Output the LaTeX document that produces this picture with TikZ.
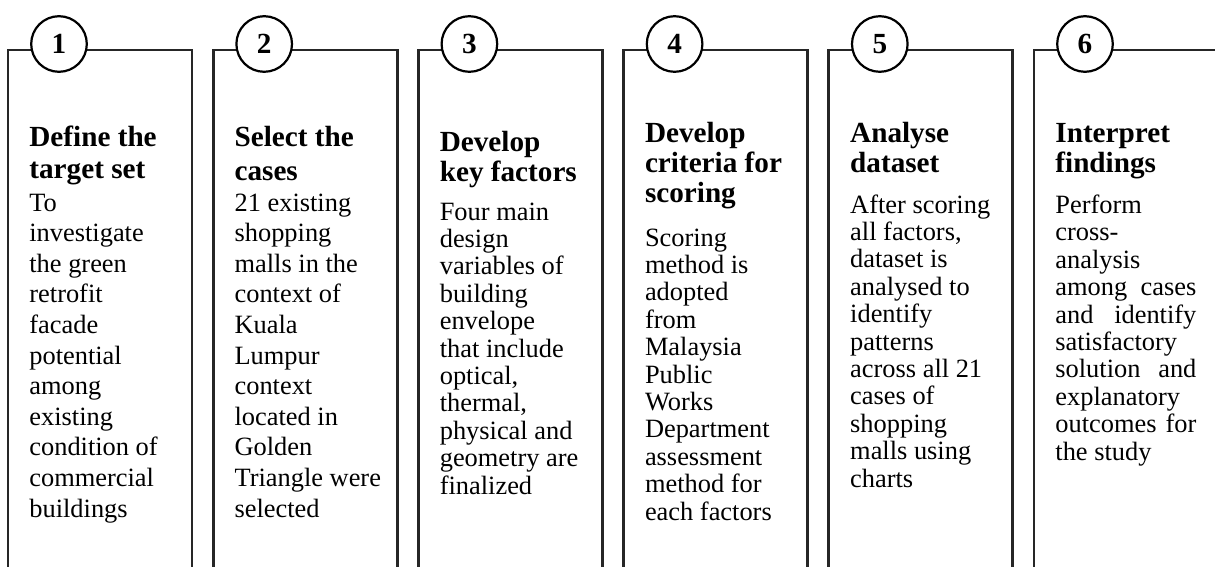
\documentclass[tikz,border=0pt]{standalone}
\usepackage{fontspec}
\setmainfont{Liberation Serif}

\begin{document}
\begin{tikzpicture}[x=0.5pt,y=-0.5pt,
  frame/.style={line width=1.4pt, color=black!85},
  num/.style={circle, draw, line width=1.1pt, fill=white, minimum size=27.8pt, inner sep=0pt,
    font=\fontsize{14.6}{15}\selectfont\bfseries},
  title/.style={anchor=base west, align=left, inner sep=0pt, font=\fontsize{14.6}{15}\selectfont\bfseries},
  body/.style={anchor=base west, align=left, inner sep=0pt, font=\fontsize{13.2}{15.3}\selectfont},
  tight/.style={font=\fontsize{13.2}{13.7}\selectfont}]

\useasboundingbox (0,0) rectangle (1215,567);
\clip (0,0) rectangle (1215,567);

% Column 1 (nodes are placed at the baseline of their last line)
\draw[frame] (8,570) -- (8,50) -- (192,50) -- (192,570);
\node[num] (n1) at (59,44) {1};
\node[title, font=\fontsize{14.6}{15.8}\selectfont\bfseries] (t1) at (29,178) {Define the\\target set};
\node[body] (b1) at (29,517) {To\\investigate\\the green\\retrofit\\facade\\potential\\among\\existing\\condition of\\commercial\\buildings};

% Column 2
\draw[frame] (213.2,570) -- (213.2,50) -- (397.2,50) -- (397.2,570);
\node[num] (n2) at (264.2,44) {2};
\node[title, font=\fontsize{14.6}{17}\selectfont\bfseries] (t2) at (234.2,180) {Select the\\cases};
\node[body] (b2) at (234.2,517) {21 existing\\shopping\\malls in the\\context of\\Kuala\\Lumpur\\context\\located in\\Golden\\Triangle were\\selected};

% Column 3
\draw[frame] (418.4,570) -- (418.4,50) -- (602.4,50) -- (602.4,570);
\node[num] (n3) at (469.4,44) {3};
\node[title] (t3) at (439.4,181) {Develop\\key factors};
\node[body, tight] (b3) at (439.4,494) {Four main\\design\\variables of\\building\\envelope\\that include\\optical,\\thermal,\\physical and\\geometry are\\finalized};

% Column 4
\draw[frame] (623.6,570) -- (623.6,50) -- (807.6,50) -- (807.6,570);
\node[num] (n4) at (674.6,44) {4};
\node[title] (t4) at (644.6,202) {Develop\\criteria for\\scoring};
\node[body, tight] (b4) at (644.6,520) {Scoring\\method is\\adopted\\from\\Malaysia\\Public\\Works\\Department\\assessment\\method for\\each factors};

% Column 5
\draw[frame] (828.8,570) -- (828.8,50) -- (1012.8,50) -- (1012.8,570);
\node[num] (n5) at (879.8,44) {5};
\node[title] (t5) at (849.8,172) {Analyse\\dataset};
\node[body, tight] (b5) at (849.8,487) {After scoring\\all factors,\\dataset is\\analysed to\\identify\\patterns\\across all 21\\cases of\\shopping\\malls using\\charts};

% Column 6
\draw[frame] (1034,570) -- (1034,50) -- (1218,50) -- (1218,570);
\node[num] (n6) at (1085,44) {6};
\node[title] (t6) at (1055,172) {Interpret\\findings};
\node[body, tight] (b6) at (1055,460) {Perform\\cross-\\analysis\\\makebox[70.5pt][s]{among cases}\\\makebox[70.5pt][s]{and identify}\\satisfactory\\\makebox[70.5pt][s]{solution and}\\explanatory\\\makebox[70.5pt][s]{outcomes for}\\the study};

\end{tikzpicture}
\end{document}
